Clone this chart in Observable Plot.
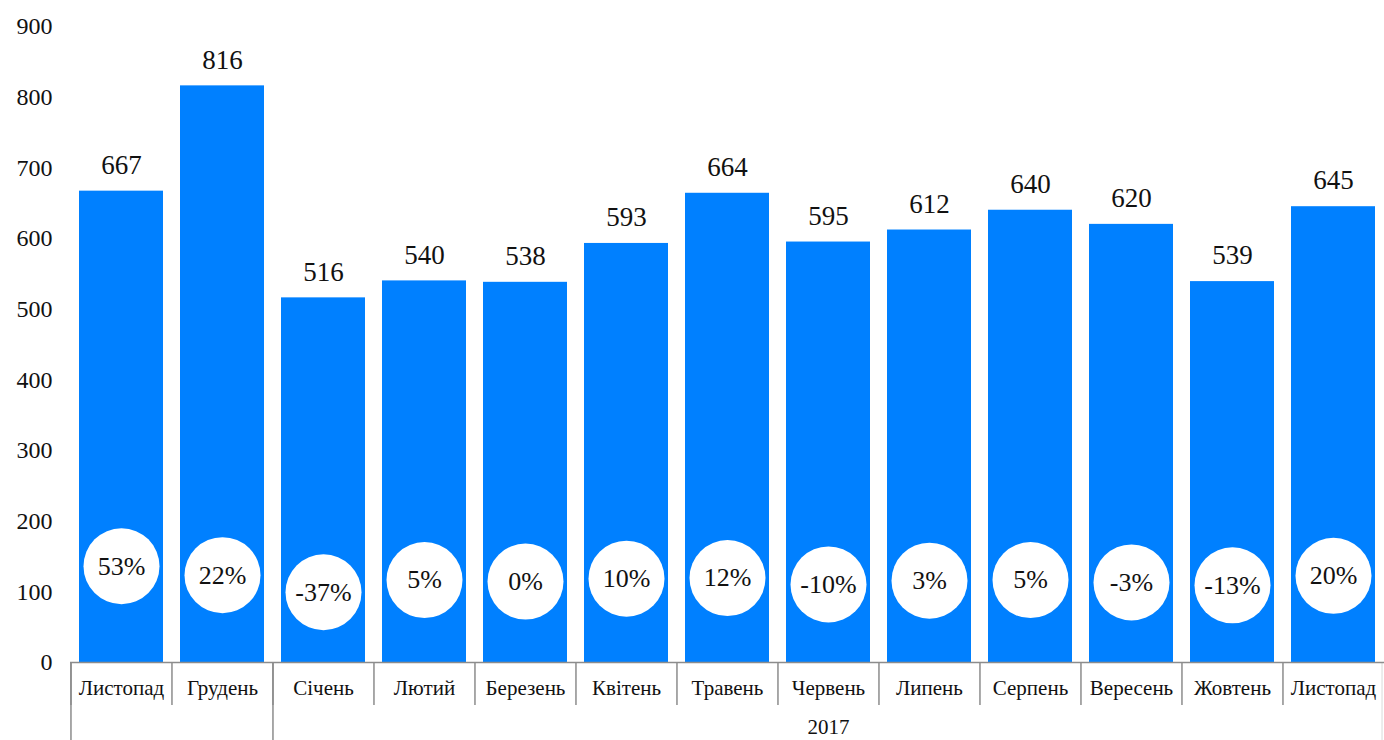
<!DOCTYPE html>
<html>
<head>
<meta charset="utf-8">
<script src="https://cdn.jsdelivr.net/npm/d3@7"></script>
<script src="https://cdn.jsdelivr.net/npm/@observablehq/plot@0.6"></script>
<style>
  html, body { margin: 0; padding: 0; background: #fff; }
  #chart { width: 1384px; height: 740px; overflow: hidden; }
</style>
</head>
<body>
<div id="chart"></div>
<script>
// ---- data ----
const months = ["Листопад","Грудень","Січень","Лютий","Березень","Квітень","Травень","Червень","Липень","Серпень","Вересень","Жовтень","Листопад"];
const years  = ["2016","2016","2017","2017","2017","2017","2017","2017","2017","2017","2017","2017","2017"];
const values = [667, 816, 516, 540, 538, 593, 664, 595, 612, 640, 620, 539, 645];
const changes = [53, 22, -37, 5, 0, 10, 12, -10, 3, 5, -3, -13, 20];
const yTicks = [0, 100, 200, 300, 400, 500, 600, 700, 800, 900];
const shownYears = ["2017"];          // group labels printed under the months
const secondaryDomain = [-280, 1920]; // secondary (percent) axis, hidden
const primaryDomain = [0, 900];

// ---- build ----
const W = 1384, H = 740, mL = 70, mR = 0, mT = 26, mB = 78;
const keys = months.map((m, i) => String(i));
const data = months.map((m, i) => ({key: keys[i], month: m, year: years[i], value: values[i], change: changes[i]}));
const step = (W - mL - mR) / months.length;
const secondary = d3.scaleLinear().domain(secondaryDomain).range(primaryDomain);

// group boundaries and group centres
const groupStarts = data.filter((d, i) => i === 0 || years[i] !== years[i - 1]);
const groupLabels = [];
for (const y of shownYears) {
  const idx = data.map((d, i) => d.year === y ? i : -1).filter(i => i >= 0);
  groupLabels.push({key: keys[idx[Math.floor(idx.length / 2)]], text: y});
}
const zero = () => 0;
const font = "'Liberation Serif', 'DejaVu Serif', serif";
const lineColor = "#8c8c8c";

const plot = Plot.plot({
  width: W, height: H,
  marginLeft: mL, marginRight: mR, marginTop: mT, marginBottom: mB,
  style: {fontFamily: font, background: "white", color: "#111", overflow: "visible"},
  x: {domain: keys, paddingInner: 0.17, paddingOuter: 0.085, axis: null},
  y: {domain: primaryDomain, axis: null},
  marks: [
    Plot.barY(data, {x: "key", y: "value", fill: "#0080FF"}),
    Plot.axisY({ticks: yTicks, tickSize: 0, tickPadding: 18, fontSize: 24, label: null}),
    Plot.axisX({tickSize: 0, tickPadding: 18, fontSize: 21, label: null, tickFormat: i => months[+i]}),
    // category separators (first row)
    Plot.ruleX(data, {x: "key", dx: -step / 2, y1: zero, y2: zero, insetBottom: -43, stroke: lineColor, strokeWidth: 1.5}),
    // group separators (both rows)
    Plot.ruleX(groupStarts, {x: "key", dx: -step / 2, y1: zero, y2: zero, insetBottom: -80, stroke: lineColor, strokeWidth: 1.5}),
    // right end of the axis
    Plot.ruleX([data[data.length - 1]], {x: "key", dx: step / 2 - 2, y1: zero, y2: zero, insetBottom: -80, stroke: "#d9d9d9", strokeWidth: 1}),
    Plot.ruleY([0], {stroke: lineColor, strokeWidth: 1.5}),
    // value labels
    Plot.text(data, {x: "key", y: "value", text: d => String(d.value), dy: -26, fontSize: 27, fill: "#111"}),
    // percent change circles
    Plot.dot(data, {x: "key", y: d => secondary(d.change), r: 38, fill: "white", stroke: "none"}),
    Plot.text(data, {x: "key", y: d => secondary(d.change), text: d => `${d.change}%`, fontSize: 26, fill: "#111"}),
    // group labels
    Plot.text(groupLabels, {x: "key", y: zero, text: "text", dy: 65, fontSize: 21, fill: "#111"})
  ]
});
document.getElementById("chart").appendChild(plot);
</script>
</body>
</html>
